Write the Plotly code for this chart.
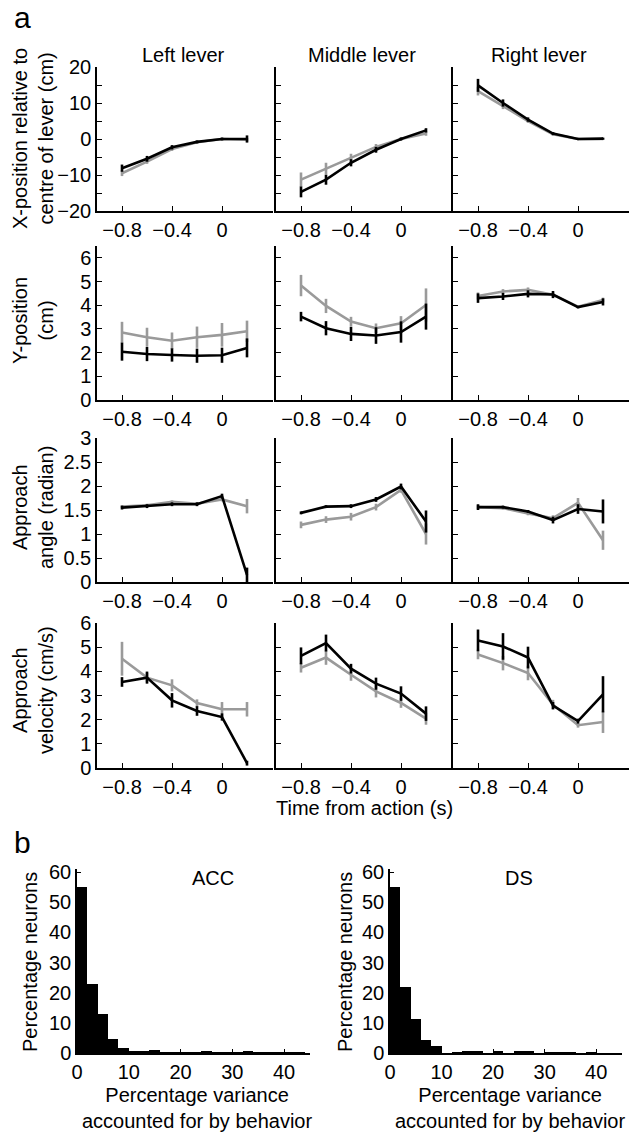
import plotly.graph_objects as go

W, H = 632, 1133

# ---------------- data ----------------
time = [-0.8, -0.6, -0.4, -0.2, 0.0, 0.2]
columns = ["Left lever", "Middle lever", "Right lever"]
row_titles = [
    "X-position relative to<br>centre of lever (cm)",
    "Y-position<br>(cm)",
    "Approach<br>angle (radian)",
    "Approach<br>velocity (cm/s)",
]
xtick_vals = [-0.8, -0.4, 0]
xtick_text = ["\u22120.8", "\u22120.4", "0"]

# Row 1: X-position
xpos_black = [[-8.1, -5.5, -2.3, -0.8, 0.0, 0.0],
              [-14.7, -11.3, -6.6, -3.0, 0.0, 2.4],
              [14.9, 10.0, 5.4, 1.5, 0.0, 0.1]]
xpos_black_err = [[1.0, 0.8, 0.6, 0.4, 0.4, 1.0],
                  [1.5, 1.4, 1.0, 0.8, 0.4, 0.6],
                  [1.8, 1.0, 0.6, 0.4, 0.3, 0.3]]
xpos_gray = [[-9.5, -6.3, -2.8, -0.9, 0.0, -0.2],
             [-11.3, -8.2, -5.3, -2.2, 0.0, 1.5],
             [13.3, 9.1, 5.0, 1.3, 0.0, 0.0]]
xpos_gray_err = [[0.8, 0.6, 0.5, 0.4, 0.3, 0.5],
                 [2.0, 1.6, 1.2, 0.8, 0.4, 0.6],
                 [1.2, 0.8, 0.5, 0.4, 0.3, 0.3]]

# Row 2: Y-position
ypos_black = [[2.04, 1.94, 1.90, 1.87, 1.89, 2.20],
              [3.52, 3.03, 2.79, 2.72, 2.87, 3.52],
              [4.30, 4.37, 4.48, 4.45, 3.92, 4.14]]
ypos_black_err = [[0.38, 0.30, 0.28, 0.30, 0.32, 0.40],
                  [0.20, 0.30, 0.30, 0.35, 0.45, 0.55],
                  [0.20, 0.15, 0.15, 0.15, 0.05, 0.15]]
ypos_gray = [[2.85, 2.65, 2.50, 2.65, 2.75, 2.90],
             [4.83, 3.97, 3.31, 3.03, 3.24, 4.01],
             [4.39, 4.58, 4.65, 4.44, 3.94, 4.22]]
ypos_gray_err = [[0.45, 0.40, 0.35, 0.45, 0.50, 0.45],
                 [0.45, 0.30, 0.20, 0.20, 0.30, 0.70],
                 [0.15, 0.10, 0.10, 0.10, 0.05, 0.10]]

# Row 3: Approach angle
angle_black = [[1.55, 1.58, 1.62, 1.62, 1.79, 0.15],
               [1.44, 1.57, 1.58, 1.72, 1.99, 1.26],
               [1.56, 1.56, 1.47, 1.29, 1.52, 1.47]]
angle_black_err = [[0.04, 0.04, 0.04, 0.04, 0.05, 0.15],
                   [0.03, 0.03, 0.04, 0.05, 0.06, 0.23],
                   [0.06, 0.03, 0.03, 0.07, 0.10, 0.25]]
angle_gray = [[1.57, 1.60, 1.67, 1.63, 1.72, 1.58],
              [1.19, 1.30, 1.36, 1.56, 1.92, 1.00],
              [1.56, 1.54, 1.43, 1.33, 1.65, 0.87]]
angle_gray_err = [[0.03, 0.03, 0.03, 0.03, 0.04, 0.15],
                  [0.07, 0.07, 0.08, 0.07, 0.06, 0.22],
                  [0.04, 0.03, 0.04, 0.06, 0.10, 0.20]]

# Row 4: Approach velocity
vel_black = [[3.56, 3.74, 2.80, 2.36, 2.11, 0.20],
             [4.64, 5.17, 4.11, 3.49, 3.08, 2.25],
             [5.28, 5.03, 4.57, 2.58, 1.94, 3.05]]
vel_black_err = [[0.20, 0.25, 0.30, 0.20, 0.15, 0.10],
                 [0.35, 0.35, 0.20, 0.25, 0.30, 0.30],
                 [0.45, 0.55, 0.45, 0.15, 0.10, 0.75]]
vel_gray = [[4.52, 3.74, 3.42, 2.69, 2.43, 2.43],
            [4.15, 4.57, 3.86, 3.17, 2.69, 2.04],
            [4.70, 4.34, 3.93, 2.62, 1.77, 1.90]]
vel_gray_err = [[0.70, 0.20, 0.25, 0.15, 0.30, 0.30],
                [0.20, 0.30, 0.25, 0.25, 0.20, 0.25],
                [0.20, 0.30, 0.30, 0.20, 0.10, 0.45]]

# Panel b: histograms (2%-wide bins)
bin_left = [0, 2, 4, 6, 8, 10, 12, 14, 16, 18, 20, 22, 24, 26, 28, 30, 32, 34, 36, 38, 40, 42]
acc_pct = [55, 23, 13, 4.7, 1.8, 0.55, 0.45, 0.9, 0.2, 0.2, 0.2, 0.3, 0.55, 0.2, 0.2,
           0.2, 0.45, 0.2, 0.1, 0.1, 0.1, 0.1]
ds_pct = [55, 22, 11.3, 4.3, 2.3, 0, 0.3, 0.65, 0.45, 0, 0.8, 0, 0.45, 0.45, 0,
          0.2, 0.2, 0.1, 0, 0.2, 0, 0]
hist_titles = ["ACC", "DS"]

# ---------------- styling / layout ----------------
FONT = "Liberation Sans, Arial, sans-serif"
BLACK = "#000000"
GRAY = "#9a9a9a"

col_px = [(97, 273), (276, 452), (453, 629)]
row_px = [(67, 211), (246, 400), (438, 582), (623, 768)]
row_range = [[-20, 20], [0, 6.5], [0, 3], [0, 6]]
row_dtick = [10, 1, 0.5, 1]
row_minor = [5, None, None, None]
row_title_y = [139, 321, 508, 690]

rows_black = [xpos_black, ypos_black, angle_black, vel_black]
rows_black_err = [xpos_black_err, ypos_black_err, angle_black_err, vel_black_err]
rows_gray = [xpos_gray, ypos_gray, angle_gray, vel_gray]
rows_gray_err = [xpos_gray_err, ypos_gray_err, angle_gray_err, vel_gray_err]


def xd(a, b):
    return [a / W, b / W]


def yd(top, bottom):
    return [1 - bottom / H, 1 - top / H]


fig = go.Figure()
layout = dict(
    template="none",
    width=W, height=H,
    margin=dict(l=0, r=0, t=0, b=0, pad=0, autoexpand=False),
    paper_bgcolor="white", plot_bgcolor="white",
    showlegend=False,
    font=dict(family=FONT, size=20, color=BLACK),
)

axis_common = dict(
    showline=True, linecolor=BLACK, linewidth=1.5,
    showgrid=False, zeroline=False, automargin=False,
    ticks="inside", ticklen=5, tickwidth=1.2, tickcolor=BLACK,
    tickfont=dict(family=FONT, size=20, color=BLACK),
)

k = 0
for r in range(4):
    for c in range(3):
        k += 1
        sx = "" if k == 1 else str(k)
        xa = dict(axis_common, domain=xd(*col_px[c]), range=[-1.0, 0.408],
                  tickmode="array", tickvals=xtick_vals, ticktext=xtick_text,
                  anchor="y" + sx)
        ya = dict(axis_common, domain=yd(*row_px[r]), range=row_range[r],
                  tickmode="linear", tick0=0, dtick=row_dtick[r],
                  showticklabels=(c == 0), anchor="x" + sx)
        if row_minor[r]:
            ya["minor"] = dict(dtick=row_minor[r], tick0=0, ticks="inside",
                               ticklen=5, tickwidth=1.2, tickcolor=BLACK, showgrid=False)
        layout["xaxis" + sx] = xa
        layout["yaxis" + sx] = ya
        for vals, errs, col in ((rows_gray[r][c], rows_gray_err[r][c], GRAY),
                                (rows_black[r][c], rows_black_err[r][c], BLACK)):
            fig.add_trace(go.Scatter(
                x=time, y=vals, mode="lines",
                line=dict(color=col, width=2.6),
                error_y=dict(type="data", array=errs, visible=True,
                             color=col, thickness=2.6, width=0),
                xaxis="x" + sx, yaxis="y" + sx, cliponaxis=False,
            ))

hist_px = [(77, 310), (390, 622)]
hist_y = (869, 1053)
for i, vals in enumerate([acc_pct, ds_pct]):
    k += 1
    sx = str(k)
    layout["xaxis" + sx] = dict(axis_common, domain=xd(*hist_px[i]), range=[0, 45],
                                tickmode="array", tickvals=[0, 10, 20, 30, 40],
                                anchor="y" + sx, ticklen=4)
    layout["yaxis" + sx] = dict(axis_common, domain=yd(*hist_y), range=[0, 61],
                                tickmode="array", tickvals=[0, 10, 20, 30, 40, 50, 60],
                                anchor="x" + sx, ticklen=4)
    fig.add_trace(go.Bar(
        x=bin_left, y=vals, width=2, offset=0,
        marker=dict(color=BLACK, line=dict(width=0)),
        xaxis="x" + sx, yaxis="y" + sx,
    ))

layout["bargap"] = 0

ann = []


def add_text(text, x, y, size=20, angle=0, xanchor="center", yanchor="middle"):
    ann.append(dict(text=text, x=x / W, y=1 - y / H, xref="paper", yref="paper",
                    showarrow=False, textangle=angle, xanchor=xanchor, yanchor=yanchor,
                    font=dict(family=FONT, size=size, color=BLACK)))


add_text("a", 12, 17, size=30, xanchor="left")
add_text("b", 12, 842, size=30, xanchor="left")
for c, name in enumerate(columns):
    add_text(name, (col_px[c][0] + col_px[c][1]) / 2 - 2, 55)
for r, t in enumerate(row_titles):
    add_text(t, 33, row_title_y[r], angle=-90)
add_text("Time from action (s)", 364, 808)
for i, t in enumerate(hist_titles):
    add_text(t, [213, 519][i], 878)
    add_text("Percentage variance<br>accounted for by behavior", [197, 510][i], 1108)
    add_text("Percentage neurons", [30, 345][i], 962, angle=-90)

layout["annotations"] = ann
fig.update_layout(**layout)
fig.write_html("out.html", config={"displayModeBar": False},
               post_script="document.body.style.margin='0px';document.body.style.padding='0px';")
